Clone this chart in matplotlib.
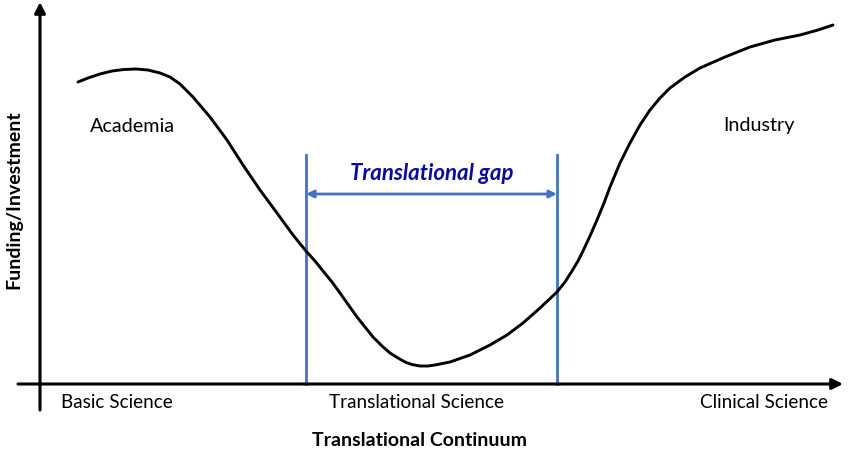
import numpy as np
from matplotlib import pyplot as plt

# curve (pixel space, y down)
curve_x = [78, 88, 100, 112, 124, 136, 148, 160, 170, 180, 193, 210, 227, 243,
           260, 277, 293, 306, 315, 323, 332, 340, 357, 373, 382, 390, 398, 405,
           412, 420, 428, 435, 450, 470, 490, 507, 523, 540, 557, 565, 572, 578,
           583, 590, 597, 604, 610, 620, 630, 640, 650, 660, 670, 685, 700, 725,
           750, 775, 800, 818, 833]
curve_y = [82, 78, 74, 71, 69.5, 69, 70, 73, 77, 84, 97, 117, 140, 165,
           190, 213, 235, 251, 261, 271, 282, 293, 317, 337, 346, 353, 358, 362,
           364.5, 366, 366, 365, 362, 355, 345, 335, 323, 308, 292, 282, 271, 261,
           251, 236, 220, 203, 187, 163, 143, 125, 110, 98, 88, 77, 68, 57,
           47, 40, 35, 30, 25]

gap_edges = [306, 557]
stage_labels = ["Basic Science", "Translational Science", "Clinical Science"]
stage_x = [117, 417, 764]
sector_labels = ["Academia", "Industry"]
sector_x = [90, 723]

BLUE = "#4472C4"
plt.rcParams['font.family'] = ['Lato', 'DejaVu Sans']

fig = plt.figure(figsize=(8.5, 4.58), dpi=100)
ax = fig.add_axes([0, 0, 1, 1])
ax.set_xlim(0, 850)
ax.set_ylim(458, 0)
ax.axis("off")

# axes arrows
ax.annotate("", xy=(40, 2), xytext=(40, 410),
            arrowprops=dict(arrowstyle="-|>", lw=2.2, color="black",
                            mutation_scale=16, shrinkA=0, shrinkB=0))
ax.annotate("", xy=(843, 384), xytext=(18, 384),
            arrowprops=dict(arrowstyle="-|>", lw=2.2, color="black",
                            mutation_scale=16, shrinkA=0, shrinkB=0))

# gap lines
for gx in gap_edges:
    ax.plot([gx, gx], [155, 384], color=BLUE, lw=2)
ax.annotate("", xy=(gap_edges[0], 194), xytext=(gap_edges[1], 194),
            arrowprops=dict(arrowstyle="<|-|>", lw=2, color=BLUE,
                            mutation_scale=11, shrinkA=0, shrinkB=0))
ax.text(sum(gap_edges) / 2, 174, "Translational gap", color="#0B0B9A",
        fontsize=16, fontweight="bold", fontstyle="italic",
        ha="center", va="center")

# the curve
ax.plot(curve_x, curve_y, color="black", lw=2.1,
        solid_capstyle="round", solid_joinstyle="round")

ax.text(sector_x[0], 127, sector_labels[0], fontsize=14.2, ha="left", va="center")
ax.text(sector_x[1], 125, sector_labels[1], fontsize=14.2, ha="left", va="center")

for lbl, sx in zip(stage_labels, stage_x):
    ax.text(sx, 403, lbl, fontsize=13.6, ha="center", va="center")

ax.text(420, 440, "Translational Continuum", fontsize=14, fontweight="bold",
        ha="center", va="center")
ax.text(14, 200, "Funding/Investment", fontsize=14, fontweight="bold",
        rotation=90, ha="center", va="center")

fig.savefig("out.png", dpi=100)
